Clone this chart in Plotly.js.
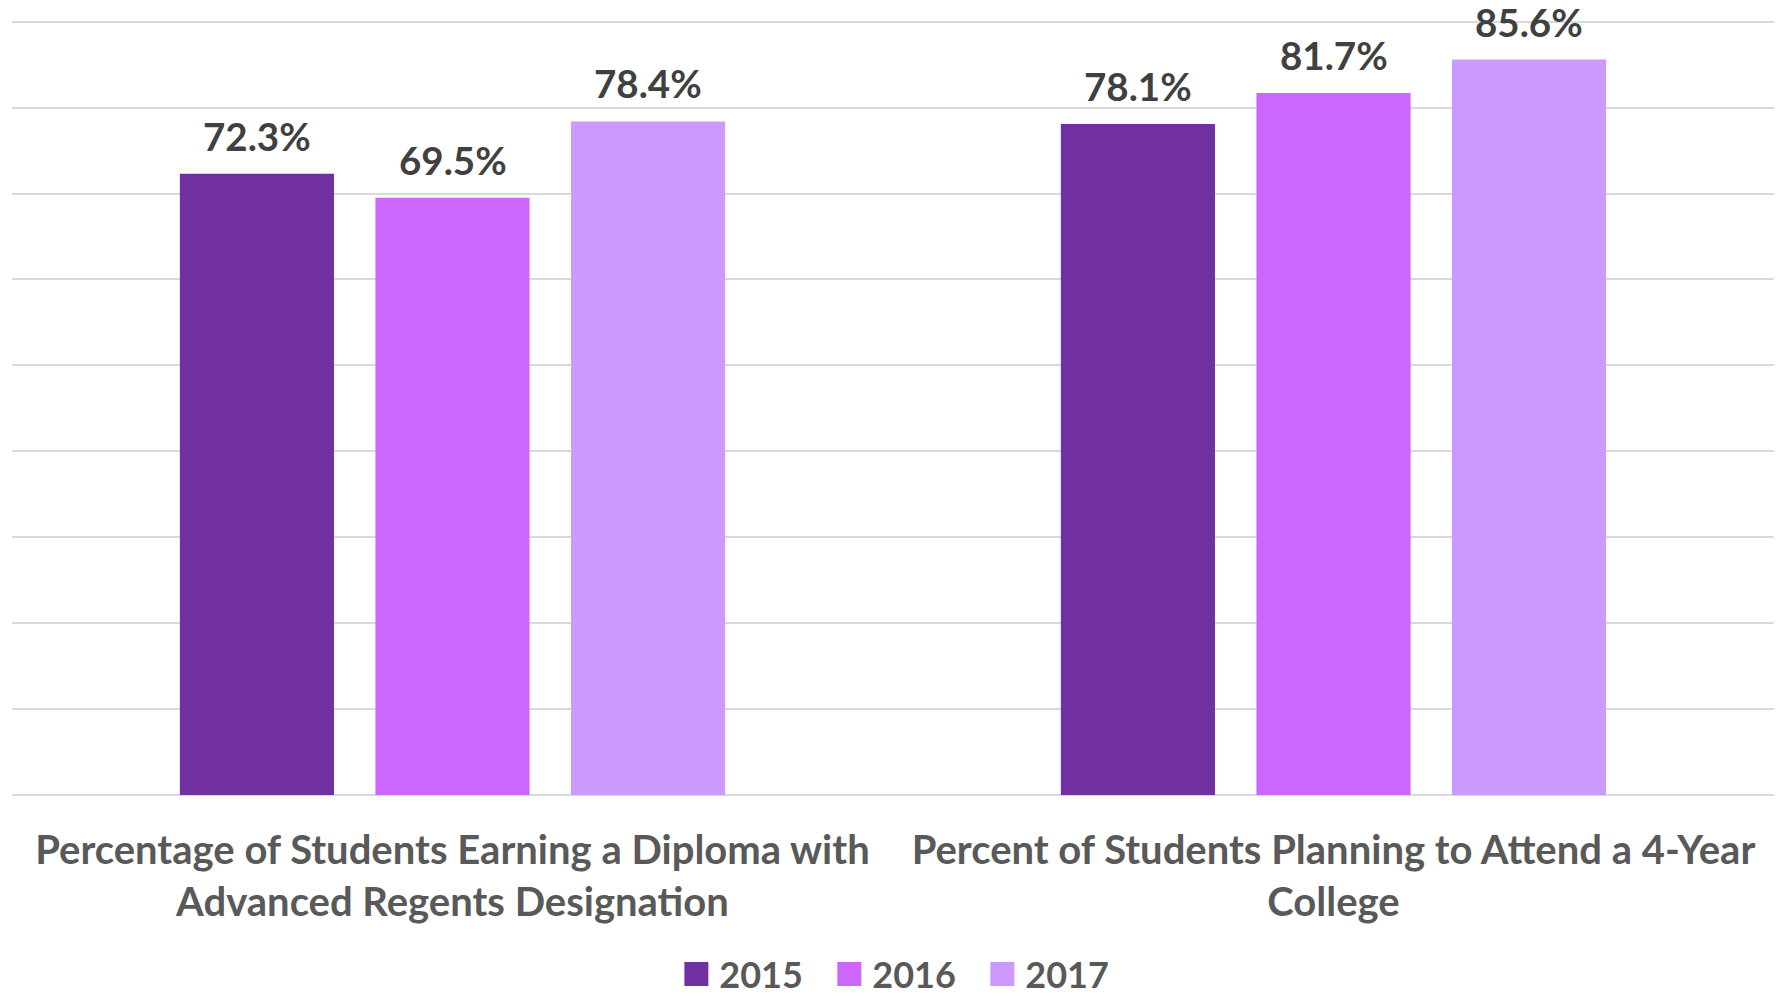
<!DOCTYPE html>
<html>
<head>
<meta charset="utf-8">
<script src="https://cdn.plot.ly/plotly-3.0.1.min.js"></script>
<style>
  html, body { margin: 0; padding: 0; background: #ffffff; }
  #chart { width: 1778px; height: 996px; }
</style>
</head>
<body>
<div id="chart"></div>
<script>
const categories = [
  'Percentage of Students Earning a Diploma with Advanced Regents Designation',
  'Percent of Students Planning to Attend a 4-Year College'
];
const tickLabels = [
  'Percentage of Students Earning a Diploma with<br>Advanced Regents Designation',
  'Percent of Students Planning to Attend a 4-Year<br>College'
];
const seriesNames = ['2015', '2016', '2017'];
const values2015 = [72.3, 78.1];
const values2016 = [69.5, 81.7];
const values2017 = [78.4, 85.6];
const seriesColors = ['#7030A0', '#CC66FF', '#CC99FF'];

const FONT = 'Lato, "Open Sans", sans-serif';
const seriesValues = [values2015, values2016, values2017];
const BARGAP = 0.334;
const BARGROUPGAP = 0.212;

const traces = seriesNames.map((name, i) => ({
  type: 'bar',
  name: name,
  x: categories,
  y: seriesValues[i],
  marker: { color: seriesColors[i] },
  hoverinfo: 'skip'
}));

// value labels above each bar, positioned through the category axis
const slot = (1 - BARGAP) / seriesNames.length;
const annotations = [];
seriesValues.forEach((vals, i) => {
  vals.forEach((v, j) => {
    annotations.push({
      xref: 'x', yref: 'y',
      x: j + (i - (seriesNames.length - 1) / 2) * slot,
      y: v,
      text: v.toFixed(1) + '%',
      showarrow: false,
      xanchor: 'center',
      yanchor: 'bottom',
      yshift: 13,
      font: { family: FONT, size: 38.5, color: '#404040', weight: 'bold' }
    });
  });
});

const layout = {
  width: 1778,
  height: 996,
  margin: { l: 12, r: 4, t: 20, b: 201, pad: 0, autoexpand: false },
  paper_bgcolor: '#ffffff',
  plot_bgcolor: '#ffffff',
  barmode: 'group',
  bargap: BARGAP,
  bargroupgap: BARGROUPGAP,
  showlegend: true,
  annotations: annotations,
  legend: {
    orientation: 'h',
    x: 0.509, xanchor: 'center',
    y: -0.2697, yanchor: 'bottom',
    font: { family: FONT, size: 36, color: '#595959', weight: 'bold' },
    entrywidth: 108,
    entrywidthmode: 'pixels',
    traceorder: 'normal'
  },
  xaxis: {
    tickvals: categories,
    ticktext: tickLabels,
    showline: false,
    ticks: '',
    showgrid: false,
    automargin: false,
    ticklabelstandoff: 28,
    tickfont: { family: FONT, size: 40, color: '#595959', weight: 'bold' },
    fixedrange: true
  },
  yaxis: {
    range: [0, 90.2],
    dtick: 10,
    showticklabels: false,
    showgrid: true,
    gridcolor: '#d9d9d9',
    gridwidth: 2,
    zeroline: true,
    zerolinecolor: '#d9d9d9',
    zerolinewidth: 2,
    showline: false,
    ticks: '',
    automargin: false,
    fixedrange: true
  }
};

Plotly.newPlot('chart', traces, layout, { displayModeBar: false, staticPlot: true }).then(gd => {
  // enlarge the legend colour squares to match the reference
  gd.querySelectorAll('.legendpoints path').forEach(p => {
    p.setAttribute('d', 'M9,12H-15V-12H9Z');
  });
});
</script>
</body>
</html>
